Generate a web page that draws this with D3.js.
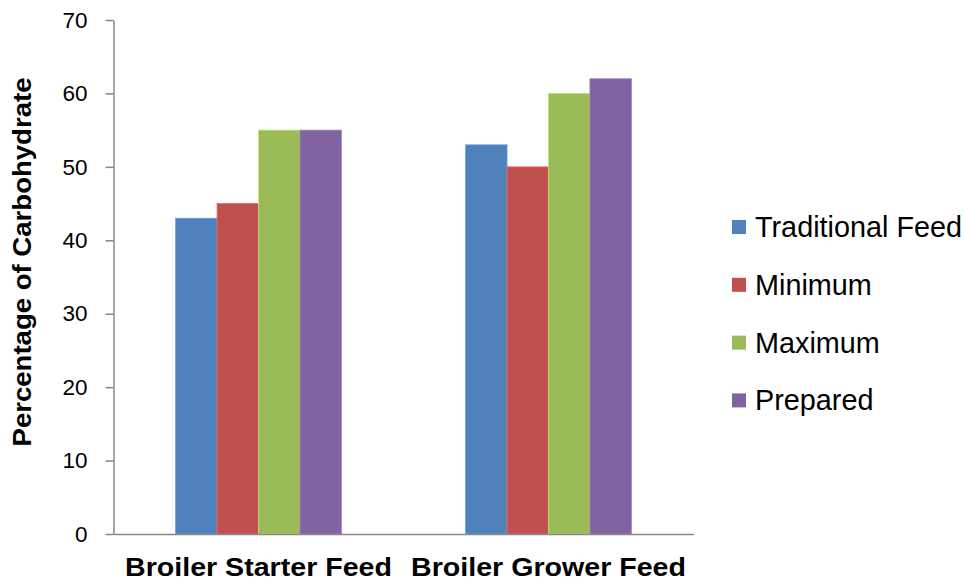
<!DOCTYPE html>
<html>
<head>
<meta charset="utf-8">
<script src="https://cdn.jsdelivr.net/npm/d3@7"></script>
<style>
  body { margin: 0; background: #fff; }
  svg { display: block; font-family: "Liberation Sans", Arial, sans-serif; }
</style>
</head>
<body>
<svg id="chart" width="966" height="581"></svg>
<script>
// chart data
const categories = ["Broiler Starter Feed", "Broiler Grower Feed"];
const seriesNames = ["Traditional Feed", "Minimum", "Maximum", "Prepared"];
const seriesColors = ["#4F81BD", "#C0504D", "#9BBB59", "#8064A2"];
const traditionalFeed = [43, 53];
const minimum = [45, 50];
const maximum = [55, 60];
const prepared = [55, 62];
const yTicks = [0, 10, 20, 30, 40, 50, 60, 70];

const seriesValues = [traditionalFeed, minimum, maximum, prepared];

const svg = d3.select("#chart");

// plot area
const plot = { left: 113.5, right: 693.5, top: 20, bottom: 534 };

const x = d3.scaleBand()
    .domain(categories)
    .range([plot.left, plot.right])
    .paddingInner(0)
    .paddingOuter(0);

// Excel gap width 75% -> inner group of bars
const groupWidth = x.bandwidth() / 1.75;
const xInner = d3.scaleBand()
    .domain(seriesNames)
    .range([0, groupWidth]);

const y = d3.scaleLinear()
    .domain([0, 70])
    .range([plot.bottom, plot.top]);

// bars
categories.forEach((cat, ci) => {
    const g = svg.append("g")
        .attr("transform", `translate(${x(cat) + (x.bandwidth() - groupWidth) / 2},0)`);
    g.selectAll("rect")
        .data(seriesNames.map((s, si) => ({ s: s, v: seriesValues[si][ci], c: seriesColors[si] })))
        .enter().append("rect")
        .attr("x", d => xInner(d.s))
        .attr("y", d => y(d.v))
        .attr("width", xInner.bandwidth())
        .attr("height", d => y(0) - y(d.v))
        .attr("fill", d => d.c)
        .attr("stroke", d => d3.color(d.c).brighter(0.6))
        .attr("stroke-width", 0.8);
});

// y axis
const yAxis = d3.axisLeft(y)
    .tickValues(yTicks)
    .tickSize(8)
    .tickPadding(18)
    .tickSizeOuter(0);

const yg = svg.append("g")
    .attr("transform", `translate(${plot.left},0)`)
    .call(yAxis);
yg.select(".domain").attr("stroke", "#868686").attr("stroke-width", 1.5);
yg.selectAll(".tick line").attr("stroke", "#868686").attr("stroke-width", 1.5);
yg.selectAll(".tick text")
    .attr("font-size", 22.5)
    .attr("fill", "#000")
    .style("font-family", "'Liberation Sans', Arial, sans-serif");

// x axis line (no ticks)
const xAxis = d3.axisBottom(x).tickSize(0).tickPadding(0).tickFormat("");
const xg = svg.append("g")
    .attr("transform", `translate(0,${plot.bottom})`)
    .call(xAxis);
xg.select(".domain").attr("stroke", "#868686").attr("stroke-width", 1.5);

// category labels (slightly stretched like the original)
svg.append("g").selectAll("text")
    .data(categories)
    .enter().append("text")
    .attr("transform", d => `translate(${x(d) + x.bandwidth() / 2},576) scale(1.1,1)`)
    .attr("text-anchor", "middle")
    .attr("font-size", 26)
    .attr("font-weight", "bold")
    .attr("fill", "#000")
    .text(d => d);

// y title
svg.append("text")
    .attr("transform", "translate(31,262) rotate(-90) scale(1.06,1)")
    .attr("text-anchor", "middle")
    .attr("font-size", 26)
    .attr("font-weight", "bold")
    .attr("fill", "#000")
    .text("Percentage of Carbohydrate");

// legend
const legend = svg.append("g").attr("transform", "translate(732,227)");
const items = legend.selectAll("g")
    .data(seriesNames)
    .enter().append("g")
    .attr("transform", (d, i) => `translate(0,${i * 57.8})`);
items.append("rect")
    .attr("x", 0)
    .attr("y", -7)
    .attr("width", 14)
    .attr("height", 14)
    .attr("fill", (d, i) => seriesColors[i]);
items.append("text")
    .attr("x", 23)
    .attr("y", 10)
    .attr("font-size", 28.8)
    .attr("fill", "#000")
    .text(d => d);
</script>
</body>
</html>
